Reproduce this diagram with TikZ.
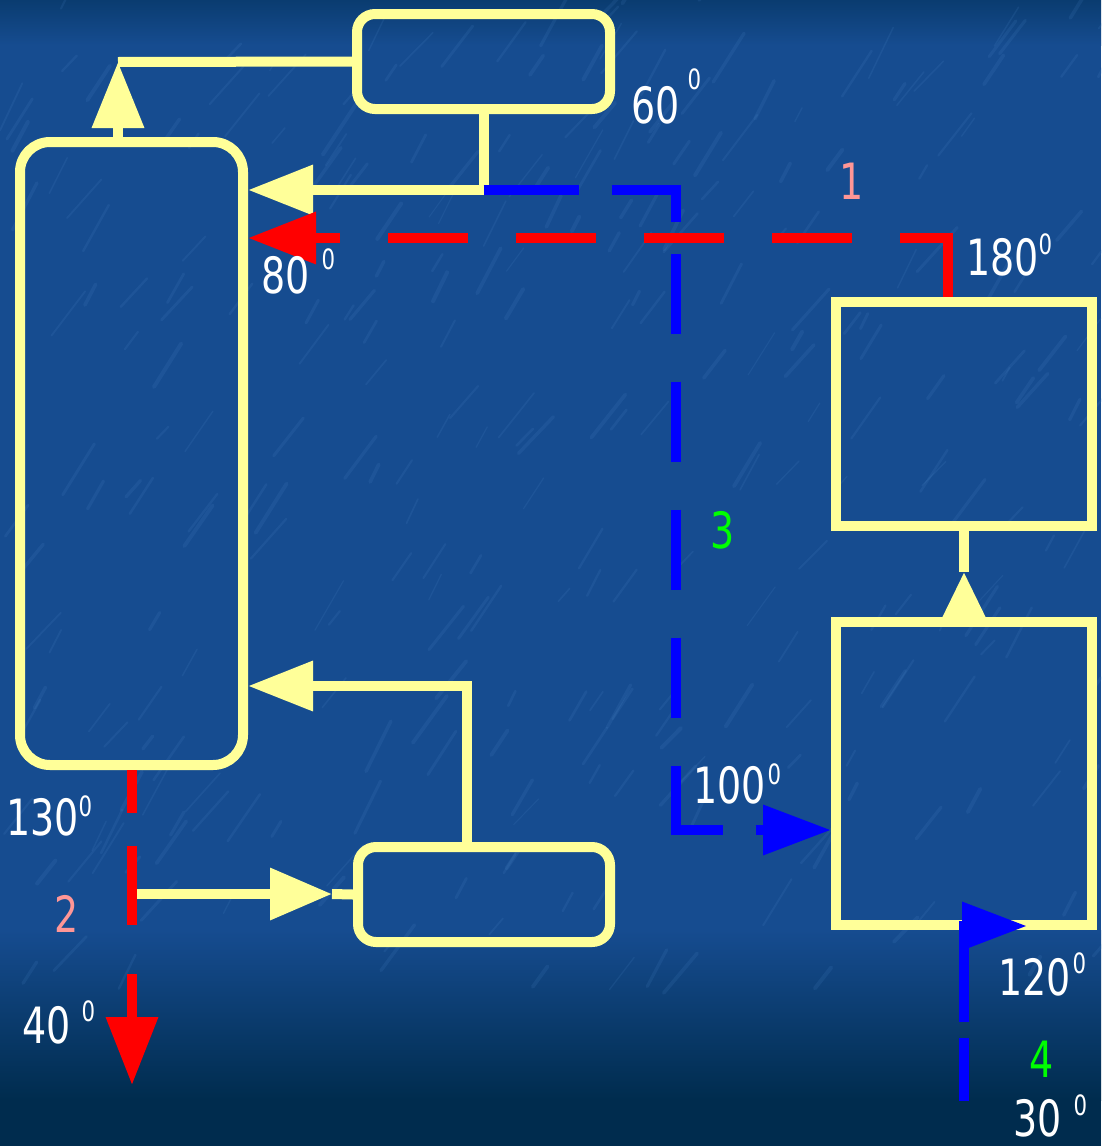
\documentclass[tikz,border=0pt]{standalone}
\usepackage{fontspec}
\setmainfont{DejaVu Sans}[FakeStretch=0.76]
\usetikzlibrary{arrows.meta}

\definecolor{seablue}{RGB}{22,76,144}
\definecolor{topsea}{RGB}{10,60,112}
\definecolor{deepsea}{RGB}{0,44,78}
\definecolor{streak}{RGB}{90,150,215}
\definecolor{paleyellow}{RGB}{255,255,153}
\definecolor{salmon}{RGB}{255,150,150}
\definecolor{lime}{RGB}{0,255,0}

% temperature superscript: kern, raise
\newcommand{\dg}[2]{\kern#1\raisebox{#2}{\fontsize{28}{28}\selectfont 0}}

\begin{document}
\begin{tikzpicture}[x=1pt,y=-1pt,line join=miter,
	unit/.style={draw=paleyellow,line width=10pt,inner sep=0pt},
	pipe/.style={draw=paleyellow,line width=10pt},
	hot/.style={draw=red,line width=10pt},
	cold/.style={draw=blue,line width=10pt},
	temp/.style={text=white,inner sep=0pt,anchor=base west,font=\fontsize{50}{60}\selectfont},
	num/.style={inner sep=0pt,anchor=base,font=\fontsize{50}{60}\selectfont}]
	\useasboundingbox (0,0) rectangle (1101,1146);
	
	% background
	\fill[seablue] (0,0) rectangle (1101,1146);
	\shade[top color=topsea,bottom color=seablue] (0,0) rectangle (1101,45);
	\shade[top color=seablue,bottom color=deepsea] (0,930) rectangle (1101,1100);
	\fill[deepsea] (0,1099) rectangle (1101,1146);
	\pgfmathsetseed{7}
	\foreach \i in {1,...,300}{
		\pgfmathsetmacro{\sx}{rnd*1101}
		\pgfmathsetmacro{\sy}{rnd*1000}
		\pgfmathsetmacro{\sl}{15+rnd*45}
		\pgfmathsetmacro{\sa}{45+rnd*20}
		\pgfmathsetmacro{\sw}{1+rnd*3}
		\draw[streak,opacity=0.12,line width=\sw pt,line cap=round] (\sx,\sy) -- ++(\sa:\sl pt and \sl pt);
	}
	
	% units
	\node[unit,rounded corners=30pt,minimum width=223pt,minimum height=623pt] (col) at (131.5,453.5) {};
	\node[unit,rounded corners=18pt,minimum width=253pt,minimum height=95pt] (cond) at (483.5,61.5) {};
	\node[unit,rounded corners=18pt,minimum width=252pt,minimum height=95pt] (reb) at (484,894.5) {};
	\node[unit,minimum width=256pt,minimum height=224pt] (furn) at (964,414) {};
	\node[unit,minimum width=256pt,minimum height=303pt] (heat) at (964,773.5) {};
	
	% bends of the lines
	\coordinate (topturn) at (118,62);
	\coordinate (reflux) at (483.5,190);
	\coordinate (vapturn) at (467,686);
	\coordinate (split) at (132,894);
	\coordinate (rebin) at (332,894);
	\coordinate (risetip) at (964,572);
	\coordinate (hotturn) at (948,238);
	\coordinate (drain) at (132,1085);
	\coordinate (coldturn) at (676,190);
	\coordinate (colddown) at (676,830);
	\coordinate (coldin) at (964,1101);
	\coordinate (coldup) at (964,926);
	\coordinate (coldtip) at (1027,926);
	
	% yellow lines
	\draw[pipe,-{Triangle[length=66pt,width=50pt]}] (col.north -| topturn) -- (topturn);
	\draw[pipe] (topturn) -- (cond.west);
	\draw[pipe,-{Triangle[length=65pt,width=48pt]}] (cond.south) -- (reflux) -- (col.east |- reflux);
	\draw[pipe,-{Triangle[length=65pt,width=48pt]}] (reb.north -| vapturn) -- (vapturn) -- (col.east |- vapturn);
	\draw[pipe,-{Triangle[length=62pt,width=50pt]}] (split) -- (rebin);
	\draw[pipe] (rebin) -- (reb.west);
	\draw[pipe,-{Triangle[length=48pt,width=43pt]}] (heat.north) -- (risetip);
	\draw[pipe] (risetip) -- (furn.south);
	
	% red lines
	\draw[hot,dash pattern=on 107pt off 48pt on 80pt off 48pt on 80pt off 48pt on 80pt off 48pt on 80pt off 48pt on 80pt off 48pt on 200pt,
		-{Triangle[length=68pt,width=50pt]}] (furn.north -| hotturn) -- (hotturn) -- (col.east |- hotturn);
	\draw[hot,dash pattern=on 43pt off 33pt on 79pt off 49pt on 200pt,
		-{Triangle[length=68pt,width=50pt]}] (col.south -| drain) -- (drain);
	
	% blue lines
	\draw[cold,dash pattern=on 95pt off 33pt on 96pt off 32pt on 80pt off 48pt on 80pt off 48pt on 80pt off 48pt on 80pt off 48pt on 111pt off 33pt on 200pt,
		-{Triangle[length=68pt,width=48pt]}] (reflux) -- (coldturn) -- (colddown) -- (heat.west |- colddown);
	\draw[cold,dash pattern=on 63pt off 16pt on 300pt,
		-{Triangle[length=65pt,width=46pt]}] (coldin) -- (coldup) -- (coldtip);
	
	% temperatures
	\node[temp] (t60) at (631,123) {60\dg{8pt}{34pt}};
	\node[temp] (t80) at (261,293) {80\dg{12pt}{24pt}};
	\node[temp] (t180) at (966,275) {180\dg{0pt}{21pt}};
	\node[temp] (t130) at (6,835) {130\dg{0pt}{19pt}};
	\node[temp] (t40) at (22,1043) {40\dg{11pt}{22pt}};
	\node[temp] (t100) at (693,803) {100\dg{2pt}{19pt}};
	\node[temp] (t120) at (998,995) {120\dg{2pt}{22pt}};
	\node[temp] (t30) at (1013,1136) {30\dg{12pt}{21pt}};
	
	% stream numbers
	\node[num,text=salmon] (s1) at (852,199) {1};
	\node[num,text=salmon] (s2) at (67,932) {2};
	\node[num,text=lime] (s3) at (723,548) {3};
	\node[num,text=lime] (s4) at (1042,1077) {4};
\end{tikzpicture}
\end{document}
